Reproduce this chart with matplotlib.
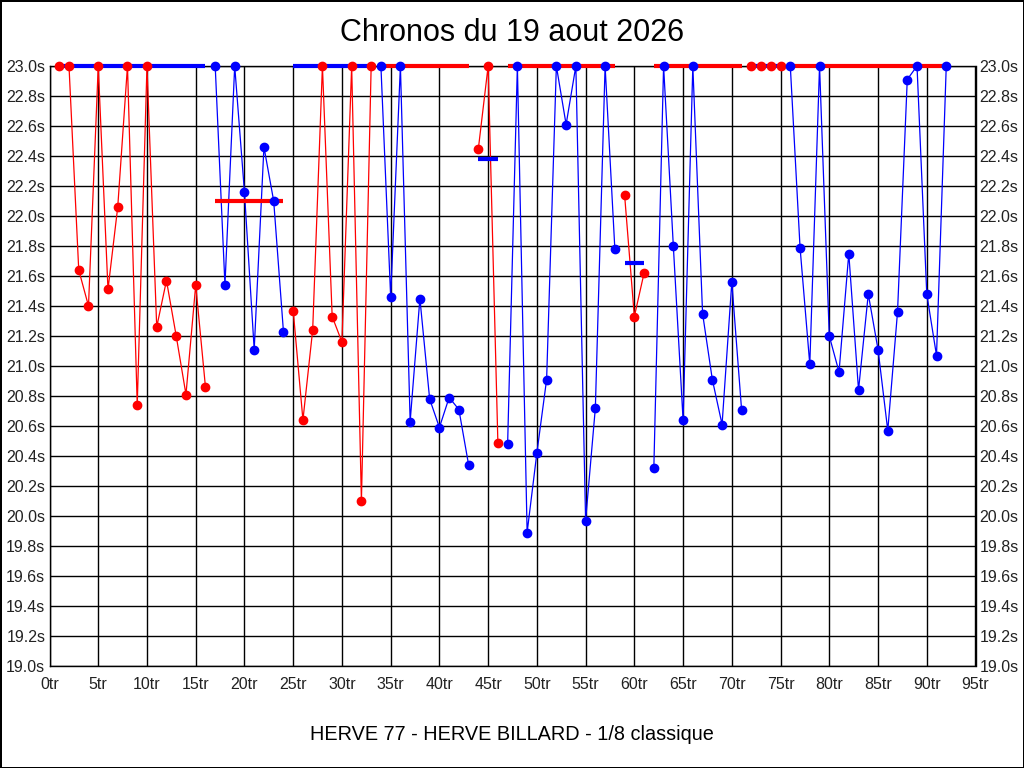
import matplotlib
matplotlib.use('Agg')
import matplotlib.pyplot as plt
import numpy as np

plt.rcParams['font.family'] = ['Liberation Sans', 'DejaVu Sans']

# chronos par serie (valeurs > 23s ramenees a 23.0)
serie_debut = [1, 17, 25, 34, 44, 47, 59, 62, 72, 76]
serie_couleur = ['red', 'blue', 'red', 'blue', 'red', 'blue', 'red', 'blue', 'red', 'blue']
serie_chronos = [
    [23.0, 23.0, 21.64, 21.40, 23.0, 21.51, 22.06, 23.0, 20.74, 23.0, 21.26, 21.57, 21.20, 20.81, 21.54, 20.86],
    [23.0, 21.54, 23.0, 22.16, 21.11, 22.46, 22.10, 21.23],
    [21.37, 20.64, 21.24, 23.0, 21.33, 21.16, 23.0, 20.10, 23.0],
    [23.0, 21.46, 23.0, 20.63, 21.45, 20.78, 20.59, 20.79, 20.71, 20.34],
    [22.45, 23.0, 20.49],
    [20.48, 23.0, 19.89, 20.42, 20.91, 23.0, 22.61, 23.0, 19.97, 20.72, 23.0, 21.78],
    [22.14, 21.33, 21.62],
    [20.32, 23.0, 21.80, 20.64, 23.0, 21.35, 20.91, 20.61, 21.56, 20.71],
    [23.0, 23.0, 23.0, 23.0],
    [23.0, 21.79, 21.01, 23.0, 21.20, 20.96, 21.75, 20.84, 21.48, 21.11, 20.57, 21.36, 22.91, 23.0, 21.48, 21.07, 23.0],
]
# moyenne de chaque serie
serie_moyenne = [23.0, 22.10, 23.0, 23.0, 22.38, 23.0, 21.69, 23.0, 23.0, 23.0]

fig = plt.figure(figsize=(10.24, 7.68), dpi=100, linewidth=1, edgecolor='black')
ax = fig.add_axes([49.5/1024, 1-666/768, 926/1024, 600/768])

autre = {'red': 'blue', 'blue': 'red'}
for debut, coul, vals, moy in zip(serie_debut, serie_couleur, serie_chronos, serie_moyenne):
    tours = np.arange(debut, debut + len(vals))
    ax.plot(tours, vals, color=coul, lw=0.9, zorder=2, clip_on=False)
    ax.plot([tours[0], tours[-1]], [moy, moy], color=autre[coul], lw=3, zorder=3,
            solid_capstyle='butt', clip_on=False)
    ax.plot(tours, vals, 'o', color=coul, ms=6, zorder=4, clip_on=False)

ax.set_xlim(0, 95)
ax.set_ylim(19.0, 23.0)
ax.set_xticks(np.arange(0, 96, 5))
ax.set_xticklabels([f'{t}tr' for t in range(0, 96, 5)])
yt = np.arange(19.0, 23.01, 0.2)
ax.set_yticks(yt)
ax.set_yticklabels([f'{v:.1f}s' for v in yt])
ax.grid(True, color='black', lw=1)
ax.set_axisbelow(True)
ax.tick_params(length=0, labelsize=11.5, labelright=True, colors='#222222')
ax.tick_params(axis='x', pad=8)
ax.tick_params(axis='y', pad=3)
for sp in ax.spines.values():
    sp.set_color('black')
    sp.set_linewidth(1)

fig.text(0.5, 1-33/768, 'Chronos du 19 aout 2026', ha='center', va='center', fontsize=22)
fig.text(0.5, 1-735/768, 'HERVE 77 - HERVE BILLARD - 1/8 classique', ha='center', va='center', fontsize=14.3)

fig.savefig('out.png', dpi=100)
